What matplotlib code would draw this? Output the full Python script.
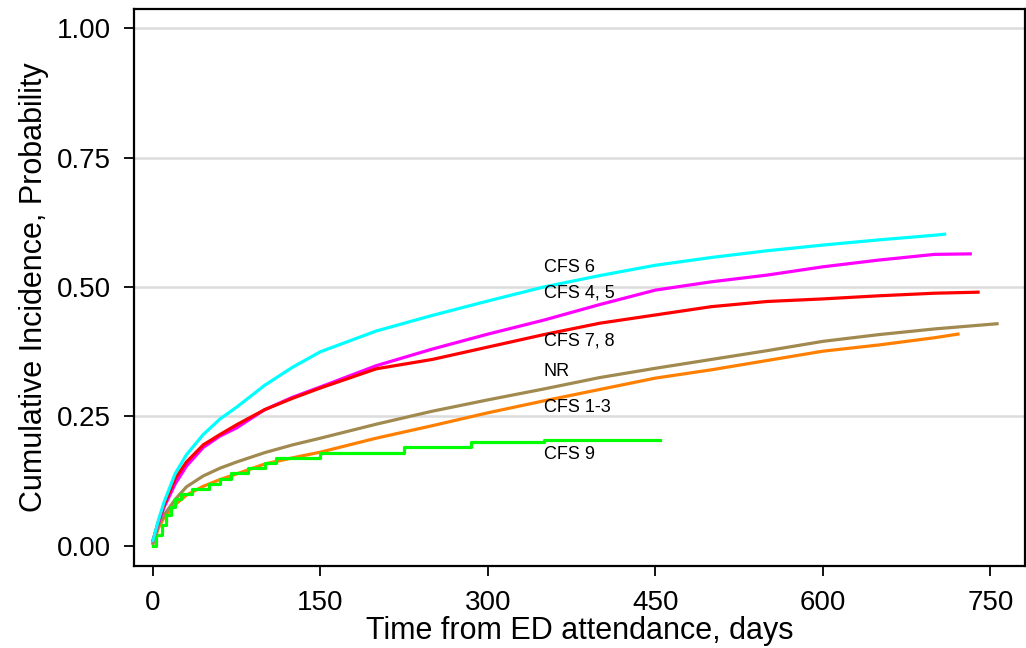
import matplotlib
matplotlib.use("Agg")
import matplotlib.pyplot as plt

plt.rcParams['font.family'] = ['Liberation Sans', 'DejaVu Sans']

# Data
t_cfs6 = [0, 5, 10, 20, 30, 45, 60, 75, 100, 125, 150, 200, 250, 300, 350, 400, 450, 500, 550, 600, 650, 700, 709]
p_cfs6 = [0.01, 0.05, 0.085, 0.14, 0.176, 0.215, 0.245, 0.268, 0.31, 0.345, 0.375, 0.415, 0.445, 0.473, 0.500, 0.522, 0.542, 0.557, 0.570, 0.581, 0.591, 0.600, 0.602]

t_cfs45 = [0, 5, 10, 20, 30, 45, 60, 75, 100, 125, 150, 200, 250, 300, 350, 400, 450, 500, 550, 600, 650, 700, 732]
p_cfs45 = [0.01, 0.045, 0.075, 0.12, 0.154, 0.19, 0.212, 0.228, 0.263, 0.287, 0.307, 0.348, 0.38, 0.409, 0.436, 0.466, 0.494, 0.51, 0.523, 0.539, 0.552, 0.563, 0.564]

t_cfs78 = [0, 5, 10, 20, 30, 45, 60, 75, 100, 125, 150, 200, 250, 300, 350, 400, 450, 500, 550, 600, 650, 700, 739]
p_cfs78 = [0.01, 0.048, 0.08, 0.13, 0.162, 0.195, 0.215, 0.234, 0.263, 0.285, 0.305, 0.342, 0.36, 0.384, 0.408, 0.43, 0.446, 0.462, 0.472, 0.477, 0.483, 0.488, 0.490]

t_nr = [0, 5, 10, 20, 30, 45, 60, 75, 100, 125, 150, 200, 250, 300, 350, 400, 450, 500, 550, 600, 650, 700, 756]
p_nr = [0.005, 0.04, 0.06, 0.09, 0.114, 0.135, 0.15, 0.162, 0.18, 0.195, 0.208, 0.235, 0.26, 0.282, 0.303, 0.325, 0.343, 0.36, 0.377, 0.395, 0.408, 0.419, 0.429]

t_cfs13 = [0, 5, 10, 20, 30, 45, 60, 75, 100, 125, 150, 200, 250, 300, 350, 400, 450, 500, 550, 600, 650, 700, 721]
p_cfs13 = [0.005, 0.035, 0.055, 0.08, 0.098, 0.115, 0.128, 0.139, 0.158, 0.17, 0.181, 0.208, 0.232, 0.257, 0.28, 0.302, 0.324, 0.34, 0.358, 0.376, 0.388, 0.402, 0.409]

t_cfs9 = [0, 3, 8, 12, 16, 20, 25, 35, 50, 60, 70, 85, 100, 110, 150, 225, 285, 350, 454]
p_cfs9 = [0.0, 0.02, 0.04, 0.06, 0.075, 0.09, 0.10, 0.11, 0.12, 0.13, 0.14, 0.15, 0.16, 0.17, 0.18, 0.19, 0.20, 0.205, 0.205]

labels = ["CFS 6", "CFS 4, 5", "CFS 7, 8", "NR", "CFS 1-3", "CFS 9"]
label_x = 350
label_y = [0.537, 0.488, 0.396, 0.336, 0.268, 0.176]

fig = plt.figure(figsize=(10.26, 6.48), dpi=100)
ax = fig.add_axes([0.1306, 0.1265, 0.8684, 0.8596])

for y in [0.25, 0.5, 0.75, 1.0]:
    ax.axhline(y, color='#dcdcdc', lw=1.8, zorder=0)

lw = 2.3
ax.plot(t_cfs13, p_cfs13, color='#ff8000', lw=lw)
ax.plot(t_nr, p_nr, color='#a08a50', lw=lw)
ax.step(t_cfs9, p_cfs9, where='post', color='#00ff00', lw=lw)
ax.plot(t_cfs45, p_cfs45, color='#ff00ff', lw=lw)
ax.plot(t_cfs78, p_cfs78, color='#ff0000', lw=lw)
ax.plot(t_cfs6, p_cfs6, color='#00ffff', lw=lw)

for lab, y in zip(labels, label_y):
    ax.text(label_x, y, lab, fontsize=13, ha='left', va='center', color='black')

ax.set_xlim(-17, 781)
ax.set_ylim(-0.039, 1.037)
ax.set_xticks([0, 150, 300, 450, 600, 750])
ax.set_yticks([0, 0.25, 0.5, 0.75, 1.0])
ax.set_yticklabels(["0.00", "0.25", "0.50", "0.75", "1.00"])
ax.tick_params(axis='both', direction='out', length=7.5, width=1.3, labelsize=20)
ax.tick_params(axis='y', pad=9)
ax.tick_params(axis='x', pad=10)
for s in ax.spines.values():
    s.set_linewidth(1.6)
ax.set_xlabel("Time from ED attendance, days", fontsize=22, labelpad=0)
ax.set_ylabel("Cumulative Incidence, Probability", fontsize=22, labelpad=6)

fig.savefig("out.png", dpi=100)
